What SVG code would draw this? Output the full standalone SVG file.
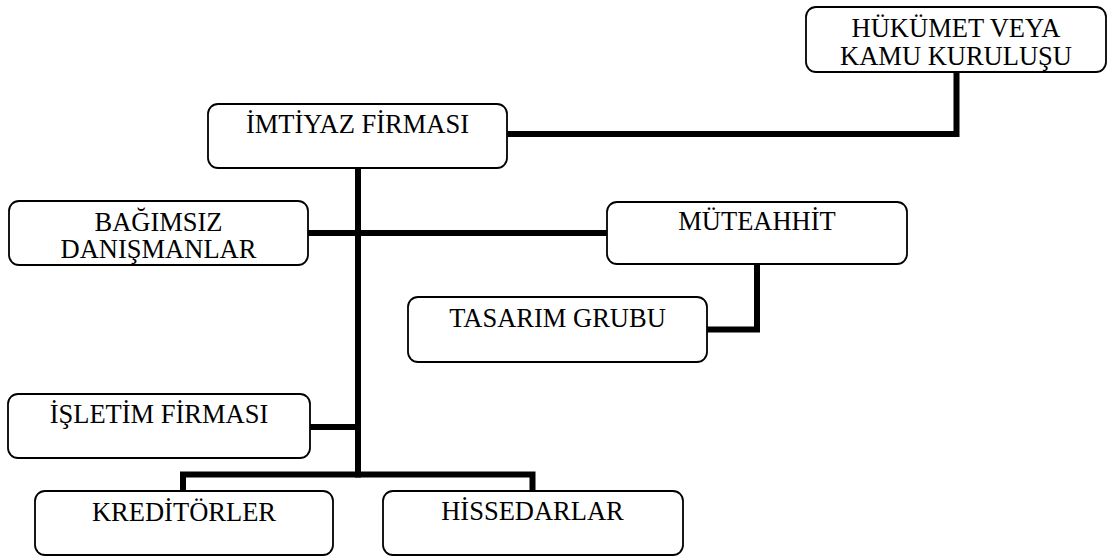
<svg xmlns="http://www.w3.org/2000/svg" width="1109" height="556" viewBox="0 0 1109 556">
<style>
.box{fill:#fff;stroke:#000;stroke-width:1.8}
.t{font-family:"Liberation Serif","Times New Roman",serif;font-size:26.5px;fill:#000;text-anchor:middle}
.c{fill:none;stroke:#000;stroke-width:6;stroke-linecap:square;stroke-linejoin:miter}
</style>
<rect width="1109" height="556" fill="#fff"/>
<g id="connectors">
<path class="c" d="M507,134 H956.5 V72"/>
<path class="c" d="M358,168 V474.5"/>
<path class="c" d="M308,233 H607"/>
<path class="c" d="M757,265 V329.5 H707"/>
<path class="c" d="M310,427 H358"/>
<path class="c" d="M183,491 V474.5 H532.5 V491"/>
</g>
<g id="hukumet">
<rect class="box" x="806" y="7" width="300" height="65" rx="10"/>
<text class="t" x="956" y="37">HÜKÜMET VEYA</text>
<text class="t" x="956" y="65">KAMU KURULUŞU</text>
</g>
<g id="imtiyaz">
<rect class="box" x="208" y="104" width="299" height="64" rx="10"/>
<text class="t" x="357.5" y="133">İMTİYAZ FİRMASI</text>
</g>
<g id="bagimsiz">
<rect class="box" x="9" y="201" width="299" height="64" rx="10"/>
<text class="t" x="158.5" y="231">BAĞIMSIZ</text>
<text class="t" x="158.5" y="258">DANIŞMANLAR</text>
</g>
<g id="muteahhit">
<rect class="box" x="607" y="202" width="300" height="62" rx="10"/>
<text class="t" x="757" y="230">MÜTEAHHİT</text>
</g>
<g id="tasarim">
<rect class="box" x="408" y="297" width="299" height="65" rx="10"/>
<text class="t" x="557.5" y="327">TASARIM GRUBU</text>
</g>
<g id="isletim">
<rect class="box" x="8" y="394" width="302" height="64" rx="10"/>
<text class="t" x="159" y="423">İŞLETİM FİRMASI</text>
</g>
<g id="kreditorler">
<rect class="box" x="35" y="491" width="298" height="64" rx="10"/>
<text class="t" x="184" y="521">KREDİTÖRLER</text>
</g>
<g id="hissedarlar">
<rect class="box" x="383" y="491" width="300" height="64" rx="10"/>
<text class="t" x="532.5" y="520">HİSSEDARLAR</text>
</g>
</svg>
